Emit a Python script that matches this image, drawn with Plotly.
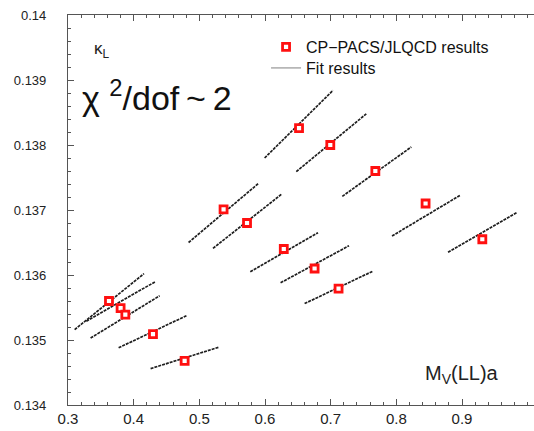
import plotly.graph_objects as go

# Data points (CP-PACS/JLQCD results)
mv = [0.3624, 0.3801, 0.3873, 0.4294, 0.4776, 0.5369, 0.5726, 0.6286,
      0.6518, 0.6755, 0.6994, 0.7120, 0.7680, 0.8445, 0.9309]
kappa = [0.13560, 0.13549, 0.13539, 0.13509, 0.13468, 0.13701, 0.13680, 0.13640,
         0.13826, 0.13610, 0.13800, 0.13579, 0.13760, 0.13710, 0.13655]

# Fit line segments (start / end)
fit_x0 = [0.3101, 0.3279, 0.3344, 0.3771, 0.4258, 0.4836, 0.5208, 0.5776,
          0.5994, 0.6237, 0.6476, 0.6603, 0.7177, 0.7934, 0.8787]
fit_y0 = [0.13516, 0.13529, 0.13503, 0.13488, 0.13456, 0.13650, 0.13641, 0.13605,
          0.13780, 0.13588, 0.13759, 0.13556, 0.13721, 0.13660, 0.13635]
fit_x1 = [0.4157, 0.4334, 0.4395, 0.4817, 0.5300, 0.5902, 0.6248, 0.6807,
          0.7035, 0.7279, 0.7542, 0.7644, 0.8228, 0.8978, 0.9834]
fit_y1 = [0.13602, 0.13590, 0.13568, 0.13538, 0.13489, 0.13741, 0.13724, 0.13665,
          0.13884, 0.13645, 0.13848, 0.13606, 0.13797, 0.13723, 0.13696]

x_ticks = [0.3, 0.4, 0.5, 0.6, 0.7, 0.8, 0.9]
x_tick_labels = ["0.3", "0.4", "0.5", "0.6", "0.7", "0.8", "0.9"]
y_ticks = [0.134, 0.135, 0.136, 0.137, 0.138, 0.139, 0.14]
y_tick_labels = ["0.134", "0.135", "0.136", "0.137", "0.138", "0.139", "0.14"]

FONT = "Liberation Sans, Arial, sans-serif"

fx, fy = [], []
for a, b, c, d in zip(fit_x0, fit_y0, fit_x1, fit_y1):
    fx += [a, c, None]
    fy += [b, d, None]

fig = go.Figure()
fig.add_trace(go.Scatter(
    x=fx, y=fy, mode="lines", showlegend=False, hoverinfo="skip",
    line=dict(color="#1e1e1e", width=1.7, dash="3px,1px")))
fig.add_trace(go.Scatter(
    x=mv, y=kappa, mode="markers", name="CP\u2212PACS/JLQCD results",
    legend="legend",
    marker=dict(symbol="square", size=7, color="white",
                line=dict(color="#ff1010", width=2.8))))
fig.add_trace(go.Scatter(
    x=[None], y=[None], mode="lines", name="Fit results", legend="legend2",
    line=dict(color="#aaaaaa", width=1.5)))

leg_common = dict(xanchor="left", yanchor="middle", bgcolor="rgba(0,0,0,0)",
                  font=dict(size=16, color="#111"), itemwidth=30)

pad = "\u00a0" * 5

fig.update_layout(
    width=534, height=431,
    margin=dict(l=68, r=0, t=15, b=26),
    plot_bgcolor="white", paper_bgcolor="white",
    font=dict(family=FONT, size=13, color="#222"),
    showlegend=True,
    legend=dict(x=0.425, y=(405 - 47) / 390, **leg_common),
    legend2=dict(x=0.425, y=(405 - 68) / 390, **leg_common),
    xaxis=dict(range=[0.3, 1.0096], tickvals=x_ticks, ticktext=x_tick_labels,
               showgrid=False, zeroline=False, showline=True, linecolor="#555",
               linewidth=1, mirror="ticks", ticks="inside", ticklen=6,
               tickcolor="#555", tickfont=dict(size=15, color="#222"),
               minor=dict(dtick=0.02, ticks="inside", ticklen=3, tickcolor="#555")),
    yaxis=dict(range=[0.134, 0.14], tickvals=y_ticks,
               ticktext=[t + pad for t in y_tick_labels],
               showgrid=False, zeroline=False, showline=True, linecolor="#555",
               linewidth=1, ticks="inside", ticklen=6, tickcolor="#555",
               tickfont=dict(size=13, color="#222"),
               minor=dict(dtick=0.0002, ticks="inside", ticklen=3, tickcolor="#555")),
    annotations=[
        dict(text="\u03ba<sub>L</sub>", xref="paper", yref="paper",
             x=(92 - 68) / 466, y=(405 - 50) / 390, xanchor="left", yanchor="middle",
             showarrow=False, font=dict(size=17, color="#222")),
        dict(text="\u03c7 <sup>2</sup>/dof\u2009~\u20092", xref="paper", yref="paper",
             x=(80 - 68) / 466, y=(405 - 95) / 390, xanchor="left", yanchor="middle",
             showarrow=False, font=dict(size=34, color="#111")),
        dict(text="M<sub>V</sub>(LL)a", xref="paper", yref="paper",
             x=(423 - 68) / 466, y=(405 - 374) / 390, xanchor="left", yanchor="middle",
             showarrow=False, font=dict(size=20, color="#222")),
    ],
)

fig.write_html("out.html")
